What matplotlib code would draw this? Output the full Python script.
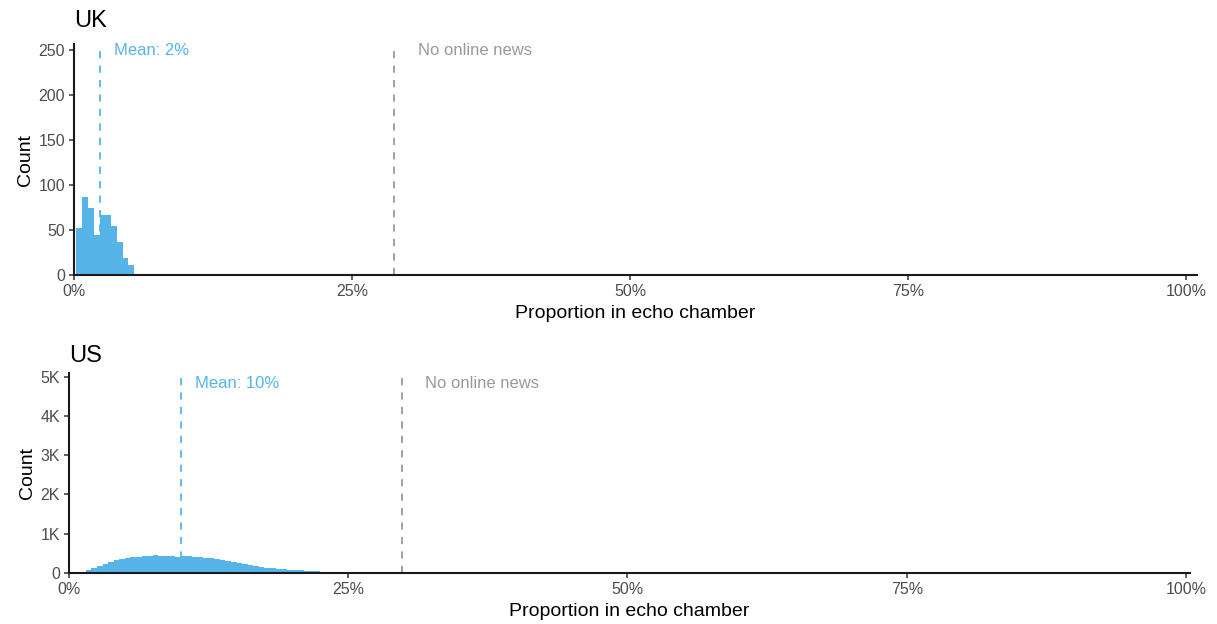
import numpy as np
import matplotlib
matplotlib.use("Agg")
import matplotlib.pyplot as plt
from matplotlib.ticker import FuncFormatter

plt.rcParams['font.family'] = ['Liberation Sans', 'DejaVu Sans']

# UK: share of each respondent's online news diet inside an echo chamber (%)
uk_edges = [0.22, 0.74, 1.26, 1.78, 2.30, 2.82, 3.34, 3.86, 4.38, 4.90, 5.42, 5.94]
uk_counts = [52, 87, 74, 44, 67, 67, 54, 37, 19, 11, 1]
uk_mean = 2.34
uk_no_news = 28.8

# US: same measure, 0.5% bins
us_edges = np.arange(0, 28.01, 0.5)
us_counts = [5, 15, 35, 70, 120, 180, 240, 290, 330, 360,
             380, 395, 410, 425, 440, 450, 445, 435, 425, 420,
             430, 435, 420, 405, 390, 370, 345, 320, 295, 270,
             245, 220, 200, 180, 160, 140, 125, 110, 96, 84,
             74, 65, 57, 50, 44, 38, 33, 28, 24, 20,
             16, 12, 9, 6, 4, 3]
us_mean = 10.0
us_no_news = 29.8

x_ticks = [0, 25, 50, 75, 100]
uk_yticks = [0, 50, 100, 150, 200, 250]
us_yticks = [0, 1000, 2000, 3000, 4000, 5000]

BLUE = '#56B4E9'
GREY = '#9a9a9a'


def panel(ax, title, edges, counts, mean, no_news, yticks, ylim, xlim, yfmt,
          txt_y, title_pad):
    ax.stairs(counts, edges, fill=True, color=BLUE, zorder=3)
    top = yticks[-1]
    ax.vlines(mean, 0, top, colors=BLUE, linestyles=(0, (4, 4)), lw=1.3, zorder=2)
    ax.vlines(no_news, 0, top, colors=GREY, linestyles=(0, (4, 4)), lw=1.3, zorder=2)
    ax.annotate(f"Mean: {mean:.0f}%", (mean, txt_y), xytext=(10, 0),
                textcoords='offset points', color=BLUE, fontsize=12, va='center')
    ax.annotate("No online news", (no_news, txt_y), xytext=(17, 0),
                textcoords='offset points', color=GREY, fontsize=12, va='center')

    ax.set_xlim(*xlim)
    ax.set_ylim(*ylim)
    ax.set_xticks(x_ticks)
    ax.xaxis.set_major_formatter(FuncFormatter(lambda v, p: f"{v:.0f}%"))
    ax.set_yticks(yticks)
    ax.yaxis.set_major_formatter(FuncFormatter(yfmt))
    for s in ['top', 'right']:
        ax.spines[s].set_visible(False)
    for s in ['left', 'bottom']:
        ax.spines[s].set_linewidth(1.5)
        ax.spines[s].set_color('#1a1a1a')
        ax.spines[s].set_zorder(4)
    ax.tick_params(length=3.5, width=1.1, color='#333333', labelsize=11.5,
                   labelcolor='#4d4d4d', pad=3)
    ax.set_xlabel("Proportion in echo chamber", fontsize=14, labelpad=4)
    ax.set_ylabel("Count", fontsize=14, labelpad=3)
    ax.set_title(title, loc='left', fontsize=17, pad=title_pad)


fig = plt.figure(figsize=(12.17, 6.24), dpi=100)

ax_uk = fig.add_axes([74 / 1217, 1 - 275 / 624, (1197 - 74) / 1217, (275 - 44) / 624])
panel(ax_uk, "UK", uk_edges, uk_counts, uk_mean, uk_no_news, uk_yticks,
      (0, 256.7), (0, 100.99), lambda v, p: f"{v:.0f}", 250, 12)

ax_us = fig.add_axes([69 / 1217, 1 - 573 / 624, (1190 - 69) / 1217, (573 - 373) / 624])
panel(ax_us, "US", us_edges, us_counts, us_mean, us_no_news, us_yticks,
      (0, 5094), (0, 100.36), lambda v, p: "0" if v == 0 else f"{v / 1000:.0f}K",
      4820, 8)

fig.savefig("out.png", dpi=100)
